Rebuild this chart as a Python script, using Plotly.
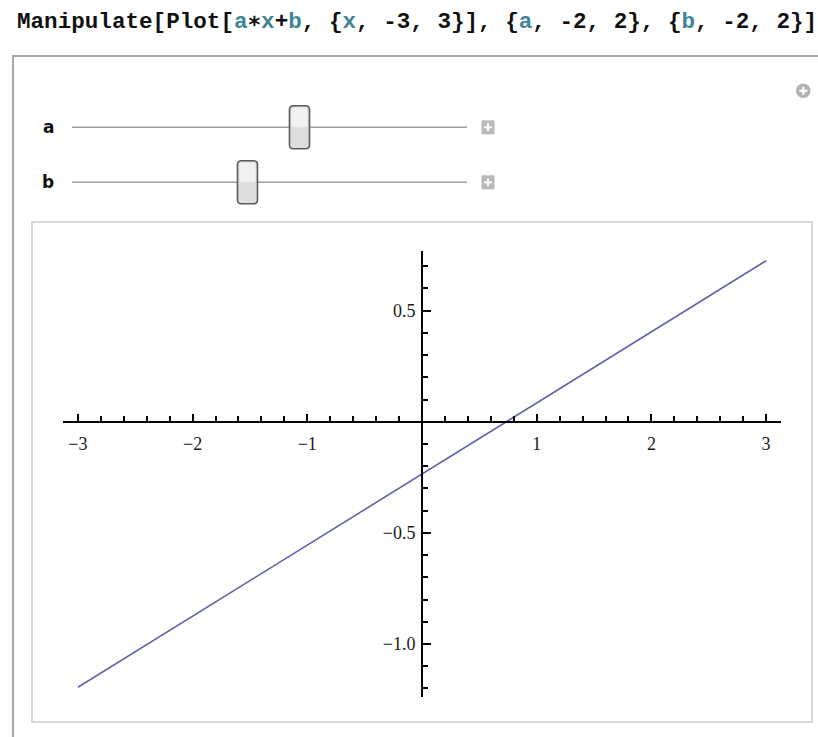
import numpy as np
import plotly.graph_objects as go

W, H = 818, 737

# Manipulate controls: parameter ranges and the current slider settings
a_range = [-2, 2]
b_range = [-2, 2]
a_value = 0.32
b_value = -0.235

# Plotted line a*x + b sampled at the ends of the x interval
line_x = [-3.0, 3.0]
line_y = [-1.195, 0.725]

# Axis ticks
x_major = [-3, -2, -1, 1, 2, 3]
x_major_text = ["\u22123", "\u22122", "\u22121", "1", "2", "3"]
y_major = [-1.0, -0.5, 0.5]
y_major_text = ["\u22121.0", "\u22120.5", "0.5"]
x_minor = [v for v in np.round(np.arange(-3.0, 3.01, 0.2), 1) if abs(v - round(v)) > 1e-6]
y_minor = [v for v in np.round(np.arange(-1.2, 0.71, 0.1), 1) if abs(v * 2 - round(v * 2)) > 1e-6]

x_range = [-3.13, 3.13]
y_range = [-1.24, 0.77]


def X(px):
    return px / W


def Y(py):
    return 1 - py / H


# pixel extents of the drawn axes
ax_x0, ax_x1 = 63, 781
ax_y0, ax_y1 = 250.7, 697.3

x_dom = [X(ax_x0), X(ax_x1)]
y_dom = [Y(ax_y1), Y(ax_y0)]
# paper positions where the axes cross the origin
x_axis_pos = y_dom[0] + (0 - y_range[0]) / (y_range[1] - y_range[0]) * (y_dom[1] - y_dom[0])
y_axis_pos = x_dom[0] + (0 - x_range[0]) / (x_range[1] - x_range[0]) * (x_dom[1] - x_dom[0])

fig = go.Figure()
fig.add_trace(go.Scatter(
    x=line_x, y=line_y, mode="lines",
    line=dict(color="#6262aa", width=1.6),
    hoverinfo="skip", showlegend=False,
))

tick_font = dict(family="Liberation Serif, Times New Roman, serif", size=18, color="#1a1a1a")

fig.update_layout(
    width=W, height=H,
    margin=dict(l=0, r=0, t=0, b=0),
    paper_bgcolor="white", plot_bgcolor="rgba(0,0,0,0)",
    showlegend=False,
    xaxis=dict(
        domain=x_dom, range=x_range, anchor="free", position=x_axis_pos,
        showgrid=False, zeroline=False, showline=True, linecolor="black", linewidth=2,
        ticks="inside", ticklen=7, tickwidth=1.8, tickcolor="black",
        tickmode="array", tickvals=x_major, ticktext=x_major_text,
        tickfont=tick_font, ticklabelstandoff=6,
        minor=dict(tickmode="array", tickvals=x_minor, ticks="inside", ticklen=4.5,
                   tickwidth=1.6, tickcolor="black", showgrid=False),
        fixedrange=True,
    ),
    yaxis=dict(
        domain=y_dom, range=y_range, anchor="free", position=y_axis_pos,
        showgrid=False, zeroline=False, showline=True, linecolor="black", linewidth=2,
        ticks="inside", ticklen=8, tickwidth=1.8, tickcolor="black",
        tickmode="array", tickvals=y_major, ticktext=y_major_text,
        tickfont=tick_font, ticklabelstandoff=2,
        minor=dict(tickmode="array", tickvals=y_minor, ticks="inside", ticklen=4.5,
                   tickwidth=1.6, tickcolor="black", showgrid=False),
        fixedrange=True,
    ),
)

shapes = []


def rect(x0, y0, x1, y1, line_color=None, line_width=0, fill=None, layer="above"):
    shapes.append(dict(
        type="rect", xref="paper", yref="paper",
        x0=X(x0), x1=X(x1), y0=Y(y1), y1=Y(y0),
        line=dict(color=line_color or "rgba(0,0,0,0)", width=line_width),
        fillcolor=fill or "rgba(0,0,0,0)", layer=layer,
    ))


def rounded(x0, y0, x1, y1, r):
    return (f"M {X(x0 + r)},{Y(y0)} L {X(x1 - r)},{Y(y0)} Q {X(x1)},{Y(y0)} {X(x1)},{Y(y0 + r)} "
            f"L {X(x1)},{Y(y1 - r)} Q {X(x1)},{Y(y1)} {X(x1 - r)},{Y(y1)} "
            f"L {X(x0 + r)},{Y(y1)} Q {X(x0)},{Y(y1)} {X(x0)},{Y(y1 - r)} "
            f"L {X(x0)},{Y(y0 + r)} Q {X(x0)},{Y(y0)} {X(x0 + r)},{Y(y0)} Z")


# outer Manipulate frame and inner graphics panel
rect(13, 56, 840, 760, line_color="#a6a6a6", line_width=2, layer="below")
rect(32, 222, 812, 722, line_color="#d9d9d9", line_width=2, layer="below")

# sliders
track_x0, track_x1 = 72, 467
thumb_w, thumb_h = 20, 43
slider_rows = [("a", a_value, a_range, 127.3), ("b", b_value, b_range, 182.3)]
annotations = []
for name, val, rng, cy in slider_rows:
    shapes.append(dict(type="line", xref="paper", yref="paper",
                       x0=X(track_x0), x1=X(track_x1), y0=Y(cy), y1=Y(cy),
                       line=dict(color="#a0a0a0", width=1.5)))
    frac = (val - rng[0]) / (rng[1] - rng[0])
    cx = track_x0 + thumb_w / 2 + frac * (track_x1 - track_x0 - thumb_w)
    tx0, tx1 = cx - thumb_w / 2, cx + thumb_w / 2
    ty0, ty1 = cy - thumb_h / 2, cy + thumb_h / 2
    shapes.append(dict(type="path", xref="paper", yref="paper", path=rounded(tx0, ty0, tx1, ty1, 4),
                       fillcolor="#dedede", line=dict(color="#5a5a5a", width=1.6)))
    shapes.append(dict(type="path", xref="paper", yref="paper",
                       path=rounded(tx0 + 2, ty0 + 2, tx1 - 2, cy, 2.5),
                       fillcolor="#f1f1f1", line=dict(color="rgba(0,0,0,0)", width=0)))
    # increment button
    bx, by = 488, cy
    rect(bx - 6.5, by - 7, bx + 6.5, by + 7, fill="#b9b9b9")
    rect(bx - 4, by - 1, bx + 4, by + 1, fill="white")
    rect(bx - 1, by - 4, bx + 1, by + 4, fill="white")
    annotations.append(dict(
        x=X(48), y=Y(cy), xref="paper", yref="paper", text=f"<b>{name}</b>",
        showarrow=False, xanchor="center", yanchor="middle",
        font=dict(family="DejaVu Sans, sans-serif", size=17, color="#111111"),
    ))

# options button in the corner
shapes.append(dict(type="circle", xref="paper", yref="paper",
                   x0=X(796), x1=X(810.5), y0=Y(98), y1=Y(83.5),
                   fillcolor="#b3b3b3", line=dict(color="rgba(0,0,0,0)", width=0)))
rect(799.3, 89.7, 807.3, 91.9, fill="white")
rect(802.2, 86.8, 804.4, 94.8, fill="white")

# input cell
teal = "#3f8598"


def v(s):
    return f"<span style='color:{teal}'>{s}</span>"


header = (f"<b>Manipulate[Plot[{v('a')}\u2217{v('x')}+{v('b')}, "
          f"{{{v('x')}, -3, 3}}], {{{v('a')}, -2, 2}}, {{{v('b')}, -2, 2}}]</b>")
annotations.append(dict(
    x=X(15), y=Y(22), xref="paper", yref="paper", text=header,
    showarrow=False, xanchor="left", yanchor="middle",
    font=dict(family="Liberation Mono, Courier New, monospace", size=22.6, color="#111111"),
))

fig.update_layout(shapes=shapes, annotations=annotations)

fig.write_html("out.html")
